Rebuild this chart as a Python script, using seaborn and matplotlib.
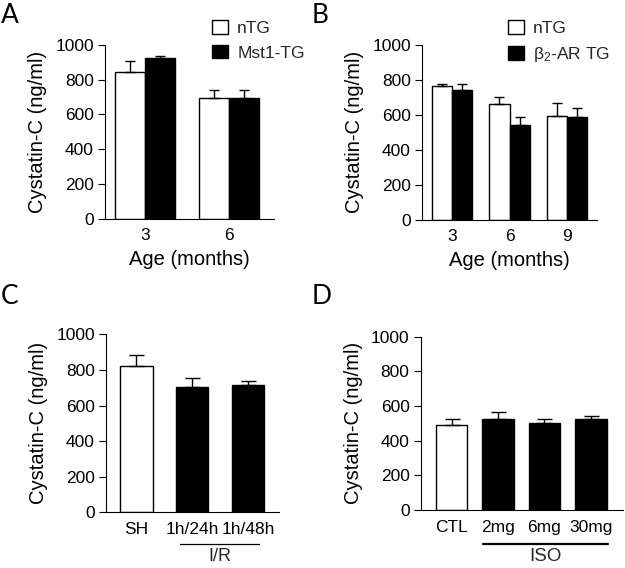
import numpy as np
import pandas as pd
import matplotlib
matplotlib.use("Agg")
import matplotlib.pyplot as plt
import seaborn as sns

# ---------------- data ----------------
# Panel A
a_ages = ["3", "6"]
a_groups = ["nTG", "Mst1-TG"]
a_ntg_mean = [846, 693]
a_ntg_err = [64, 50]
a_tg_mean = [923, 693]
a_tg_err = [15, 50]

# Panel B
b_ages = ["3", "6", "9"]
b_groups = ["nTG", r"$\mathrm{\beta_2}$-AR TG"]
b_ntg_mean = [765, 664, 594]
b_ntg_err = [12, 40, 72]
b_tg_mean = [741, 540, 590]
b_tg_err = [36, 48, 48]

# Panel C
c_cats = ["SH", "1h/24h", "1h/48h"]
c_mean = [824, 704, 715]
c_err = [60, 49, 23]
c_colors = ["white", "black", "black"]

# Panel D
d_cats = ["CTL", "2mg", "6mg", "30mg"]
d_mean = [489, 527, 504, 523]
d_err = [36, 38, 21, 21]
d_colors = ["white", "black", "black", "black"]

ylim = (0, 1000)
yticks = [0, 200, 400, 600, 800, 1000]
ylabel = "Cystatin-C (ng/ml)"
xlabel = "Age (months)"

# ---------------- style ----------------
sns.set_theme(style="ticks")
plt.rcParams["font.family"] = ["Liberation Sans", "DejaVu Sans"]
plt.rcParams["mathtext.fontset"] = "custom"
plt.rcParams["mathtext.rm"] = "Liberation Sans"
plt.rcParams["mathtext.it"] = "Liberation Sans:italic"
plt.rcParams["axes.linewidth"] = 0.8
plt.rcParams["axes.edgecolor"] = "black"

W, H = 625, 568
fig = plt.figure(figsize=(W / 100, H / 100), dpi=100)


def rect(l, r, t, b):
    return [l / W, 1 - b / H, (r - l) / W, (b - t) / H]


def style_axes(ax, xlim):
    ax.set_ylim(*ylim)
    ax.set_yticks(yticks)
    ax.set_xlim(*xlim)
    sns.despine(ax=ax)
    ax.tick_params(axis="y", length=5, width=0.8, pad=3, labelsize=12.5,
                   colors="black")
    ax.tick_params(axis="x", length=0, pad=7, labelsize=12.5, colors="black")
    ax.set_ylabel(ylabel, fontsize=14.5, labelpad=6, color="black")
    ax.set_facecolor("white")


def grouped(ax, cats, groups, m0, e0, m1, e1, width, capsize, xlim, legend_xy):
    df = pd.DataFrame({
        "age": cats + cats,
        "group": [groups[0]] * len(cats) + [groups[1]] * len(cats),
        "value": m0 + m1,
    })
    sns.barplot(data=df, x="age", y="value", hue="group", order=cats,
                hue_order=groups, palette={groups[0]: "white", groups[1]: "black"},
                edgecolor="black", linewidth=1.0, width=width, gap=0,
                errorbar=None, ax=ax, saturation=1)
    errs = e0 + e1
    means = m0 + m1
    bars = [p for p in ax.patches][: len(means)]
    xs = [p.get_x() + p.get_width() / 2 for p in bars]
    ax.errorbar(xs, means, yerr=[np.zeros(len(errs)), errs], fmt="none",
                ecolor="black", elinewidth=1.0, capsize=capsize, capthick=1.0,
                zorder=1)
    style_axes(ax, xlim)
    ax.set_xlabel(xlabel, fontsize=14.5, labelpad=5, color="black")
    handles, labels = ax.get_legend_handles_labels()
    ax.legend(handles, labels, loc="upper left",
              bbox_to_anchor=(legend_xy[0] / W, 1 - legend_xy[1] / H),
              bbox_transform=fig.transFigure, frameon=False, fontsize=12.5,
              borderpad=0, borderaxespad=0, handlelength=0.95,
              handleheight=0.85, handletextpad=0.5, labelspacing=0.5,
              title=None)


def single(ax, cats, means, errs, colors, width, capsize, xlim):
    df = pd.DataFrame({"cat": cats, "value": means})
    sns.barplot(data=df, x="cat", y="value", hue="cat", order=cats,
                hue_order=cats, palette=dict(zip(cats, colors)),
                edgecolor="black", linewidth=1.0, width=width,
                errorbar=None, ax=ax, legend=False, saturation=1)
    bars = [p for p in ax.patches][: len(means)]
    xs = [p.get_x() + p.get_width() / 2 for p in bars]
    ax.errorbar(xs, means, yerr=[np.zeros(len(errs)), errs], fmt="none",
                ecolor="black", elinewidth=1.0, capsize=capsize, capthick=1.0,
                zorder=1)
    style_axes(ax, xlim)
    ax.set_xlabel("")


# Panel A
axA = fig.add_axes(rect(105, 274, 45, 218.7))
grouped(axA, a_ages, a_groups, a_ntg_mean, a_ntg_err, a_tg_mean, a_tg_err,
        width=0.714, capsize=3.4, xlim=(-0.476, 1.536), legend_xy=(212, 20))

# Panel B
axB = fig.add_axes(rect(422, 597, 45, 219.7))
grouped(axB, b_ages, b_groups, b_ntg_mean, b_ntg_err, b_tg_mean, b_tg_err,
        width=0.70, capsize=3.6, xlim=(-0.522, 2.52), legend_xy=(508, 20))

# Panel C
axC = fig.add_axes(rect(106, 279, 334.3, 512.3))
single(axC, c_cats, c_mean, c_err, c_colors, width=0.585, capsize=5.4,
       xlim=(-0.543, 2.556))
tr = axC.get_xaxis_transform()
axC.plot([1 - 0.217, 2 + 0.204], [-0.18, -0.18], color="black", lw=0.9,
         transform=tr, clip_on=False)
axC.text(1.5, -0.25, "I/R", transform=tr, ha="center", va="center",
         fontsize=13)

# Panel D
axD = fig.add_axes(rect(420.7, 623.3, 336.7, 510))
single(axD, d_cats, d_mean, d_err, d_colors, width=0.68, capsize=5.4,
       xlim=(-0.668, 3.70))
tr = axD.get_xaxis_transform()
axD.plot([0.681, 3.375], [-0.198, -0.198], color="black", lw=1.6,
         transform=tr, clip_on=False)
axD.text(2.03, -0.27, "ISO", transform=tr, ha="center", va="center",
         fontsize=13.5)

# Panel letters
for letter, (x, y) in zip("ABCD", [(1, 3), (312, 3), (1, 284), (312, 284)]):
    fig.text(x / W, 1 - y / H, letter, ha="left", va="top", fontsize=19,
             family=["Lato", "DejaVu Sans"], color="black")

fig.savefig("out.png", dpi=100, facecolor="white")
